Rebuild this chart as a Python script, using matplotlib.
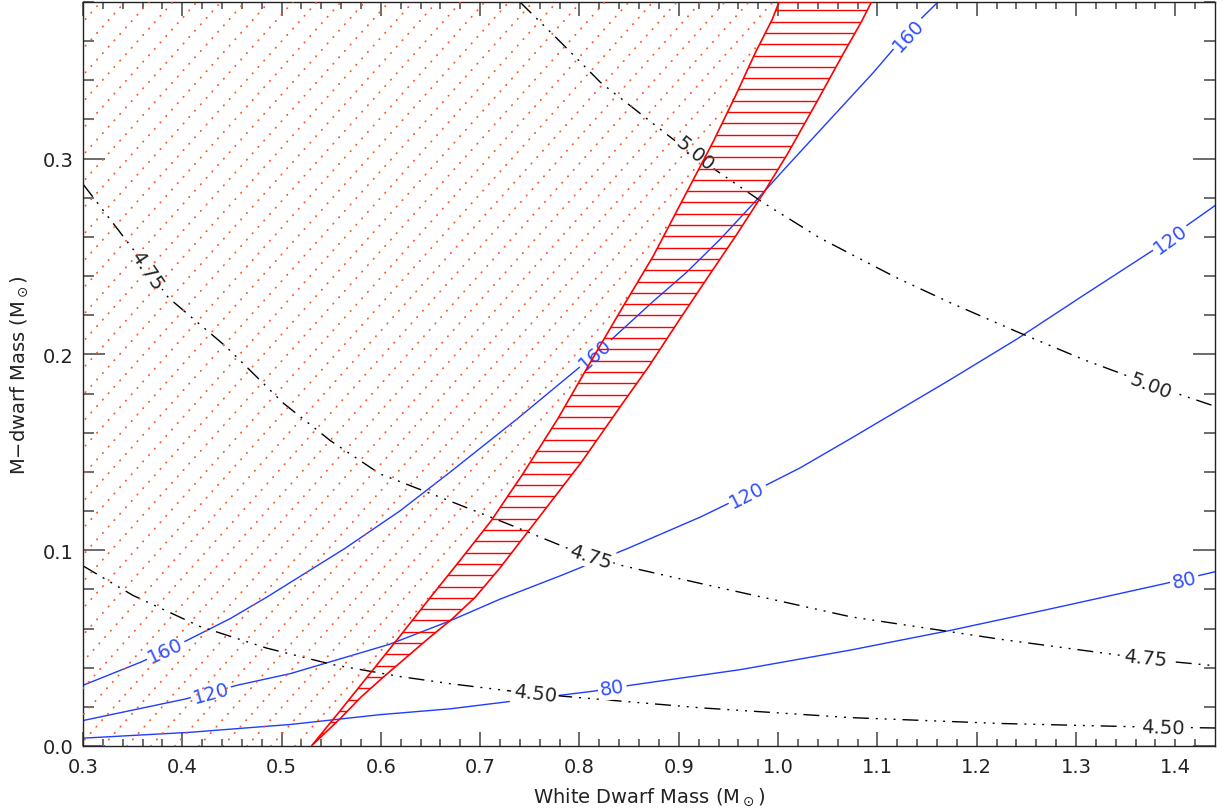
import numpy as np
import matplotlib
matplotlib.use("Agg")
import matplotlib.pyplot as plt
from matplotlib.patches import Polygon
from matplotlib.lines import Line2D

plt.rcParams['font.family'] = ['DejaVu Sans']
plt.rcParams['lines.scale_dashes'] = False

# red hatched band (allowed region), left and right edges
band_left_x = [0.530, 0.559, 0.589, 0.619, 0.650, 0.680, 0.711, 0.743, 0.778, 0.811,
               0.841, 0.874, 0.905, 0.935, 0.957, 0.977, 0.994, 1.001]
band_left_y = [0.000, 0.018, 0.037, 0.056, 0.076, 0.095, 0.115, 0.139, 0.167, 0.196,
               0.222, 0.250, 0.280, 0.309, 0.332, 0.354, 0.371, 0.380]
band_right_x = [0.530, 0.559, 0.580, 0.602, 0.625, 0.648, 0.672, 0.695, 0.720, 0.758,
                0.802, 0.842, 0.870, 0.901, 0.930, 0.958, 0.986, 1.009, 1.039, 1.065,
                1.084, 1.094]
band_right_y = [0.000, 0.014, 0.025, 0.035, 0.045, 0.055, 0.065, 0.076, 0.091, 0.116,
                0.145, 0.174, 0.194, 0.218, 0.240, 0.261, 0.283, 0.302, 0.329, 0.353,
                0.370, 0.380]

# blue curves (K velocity, km/s)
k160_x = [0.300, 0.359, 0.405, 0.448, 0.485, 0.564, 0.619, 0.670, 0.737, 0.799, 0.833,
          0.874, 0.908, 0.942, 0.975, 1.007, 1.056, 1.096, 1.123, 1.145, 1.161]
k160_y = [0.031, 0.043, 0.054, 0.065, 0.076, 0.101, 0.120, 0.140, 0.167, 0.193, 0.208,
          0.227, 0.242, 0.259, 0.277, 0.295, 0.322, 0.344, 0.360, 0.372, 0.380]
k120_x = [0.300, 0.403, 0.455, 0.509, 0.609, 0.670, 0.720, 0.781, 0.849, 0.922, 0.987,
          1.022, 1.073, 1.123, 1.173, 1.241, 1.307, 1.377, 1.412, 1.440]
k120_y = [0.013, 0.024, 0.031, 0.037, 0.052, 0.064, 0.075, 0.087, 0.101, 0.117, 0.133,
          0.142, 0.157, 0.172, 0.187, 0.208, 0.230, 0.253, 0.266, 0.276]
k80_x = [0.300, 0.408, 0.509, 0.599, 0.670, 0.814, 0.851, 0.962, 1.073, 1.173, 1.274,
         1.390, 1.440]
k80_y = [0.004, 0.007, 0.011, 0.016, 0.019, 0.028, 0.031, 0.039, 0.049, 0.059, 0.070,
         0.083, 0.089]

# black curves
c450_x = [0.300, 0.350, 0.418, 0.485, 0.552, 0.619, 0.670, 0.727, 0.784, 0.922, 1.073,
          1.224, 1.362, 1.440]
c450_y = [0.092, 0.077, 0.061, 0.050, 0.0415, 0.0355, 0.0318, 0.0283, 0.0254, 0.0195,
          0.0145, 0.0115, 0.0098, 0.0092]
c475_x = [0.300, 0.350, 0.386, 0.444, 0.502, 0.549, 0.599, 0.670, 0.730, 0.788, 0.844,
          0.922, 1.073, 1.224, 1.342, 1.398, 1.440]
c475_y = [0.287, 0.254, 0.229, 0.204, 0.175, 0.156, 0.139, 0.125, 0.113, 0.101, 0.092,
          0.083, 0.066, 0.0545, 0.0465, 0.043, 0.041]
c500_x = [0.740, 0.781, 0.821, 0.894, 0.939, 0.985, 1.042, 1.118, 1.173, 1.241, 1.307,
          1.352, 1.405, 1.440]
c500_y = [0.380, 0.3595, 0.339, 0.310, 0.2935, 0.2775, 0.2595, 0.2395, 0.2265, 0.2115,
          0.1975, 0.189, 0.1795, 0.1735]

# contour labels: x, y, text, angle
blue_labels = [(0.383, 0.049, '160', 25), (0.816, 0.2005, '160', 41), (1.131, 0.3635, '160', 47),
               (0.429, 0.027, '120', 15), (0.969, 0.1285, '120', 27), (1.395, 0.259, '120', 36),
               (0.833, 0.0296, '80', 9), (1.409, 0.085, '80', 13)]
black_labels = [(0.755, 0.0268, '4.50', -7), (1.388, 0.0097, '4.50', -2),
                (0.3645, 0.243, '4.75', -56), (0.811, 0.097, '4.75', -18), (1.370, 0.045, '4.75', -6),
                (0.9165, 0.3026, '5.00', -39), (1.375, 0.184, '5.00', -21)]

fig = plt.figure(figsize=(12.26, 8.12), dpi=100)
ax = fig.add_axes([83/1226, 65/812, 1132/1226, 744/812])
ax.set_xlim(0.3, 1.44)
ax.set_ylim(0.0, 0.38)

blue = '#1f3cff'
dash4 = (0, (11.5, 5, 1.4, 5, 1.4, 5, 1.4, 5))

for xs, ys in [(k160_x, k160_y), (k120_x, k120_y), (k80_x, k80_y)]:
    ax.plot(xs, ys, color=blue, lw=1.0, zorder=2)
for xs, ys in [(c450_x, c450_y), (c475_x, c475_y), (c500_x, c500_y)]:
    ax.plot(xs, ys, color='black', lw=1.0, linestyle=dash4, zorder=2)

for x, y, s, r in blue_labels:
    ax.text(x, y, s, color='#3050ff', fontsize=14, rotation=r, rotation_mode='anchor',
            ha='center', va='center', zorder=3,
            bbox=dict(facecolor='white', edgecolor='none', pad=1.5))
for x, y, s, r in black_labels:
    ax.text(x, y, s, color='#222222', fontsize=14, rotation=r, rotation_mode='anchor',
            ha='center', va='center', zorder=3,
            bbox=dict(facecolor='white', edgecolor='none', pad=1.5))

# dotted hatched excluded region (left of band)
ex_pts = [(0.3, 0.0)] + list(zip(band_left_x, band_left_y)) + [(0.3, 0.38)]
ex_patch = Polygon(ex_pts, closed=True, facecolor='none', edgecolor='none')
ax.add_patch(ex_patch)
w_px, h_px = 1132.0, 744.0
step = 24.0 / w_px
run = h_px / np.tan(np.radians(48)) / w_px
for x0 in np.arange(-1.0, 1.0, step):
    ln = Line2D([x0, x0 + run], [0, 1], transform=ax.transAxes, color='#ff5522',
                lw=1.3, linestyle=(0, (0.3, 5.9)), dash_capstyle='round', zorder=4)
    ax.add_line(ln)
    ln.set_clip_path(ex_patch)

# red hatched band
band_pts = list(zip(band_left_x, band_left_y)) + list(zip(band_right_x, band_right_y))[::-1]
band = Polygon(band_pts, closed=True, facecolor='none', edgecolor='red', lw=1.2, zorder=5)
ax.add_patch(band)
hy = np.arange(0.3757, 0.0, -0.00577)
hl = ax.hlines(hy, 0.3, 1.44, colors='red', lw=1.0, zorder=5)
hl.set_clip_path(band)

# axes styling (IDL look)
ax.set_xticks(np.arange(0.3, 1.41, 0.1))
ax.set_xticklabels(['%.1f' % v for v in np.arange(0.3, 1.41, 0.1)])
ax.set_xticks(np.arange(0.3, 1.44, 0.02), minor=True)
ax.set_yticks([0.0, 0.1, 0.2, 0.3])
ax.set_yticklabels(['0.0', '0.1', '0.2', '0.3'])
ax.set_yticks(np.arange(0.0, 0.381, 0.02), minor=True)
ax.tick_params(axis='both', which='both', direction='in', top=True, right=True,
               color='#444444', labelsize=14, labelcolor='#222222')
ax.tick_params(axis='x', which='major', length=10, width=1.1, pad=8)
ax.tick_params(axis='x', which='minor', length=5, width=1.1)
ax.tick_params(axis='y', which='major', length=16, width=1.1, pad=7)
ax.tick_params(axis='y', which='minor', length=8, width=1.1)
for sp in ax.spines.values():
    sp.set_linewidth(1.0)
    sp.set_color('#222222')

ax.set_xlabel(r'White Dwarf Mass (M$_\odot$)', fontsize=14, color='#222222', labelpad=7)
ax.set_ylabel('M\u2212dwarf Mass (M$_\\odot$)', fontsize=14, color='#222222', labelpad=9)

fig.savefig('out.png', dpi=100)
